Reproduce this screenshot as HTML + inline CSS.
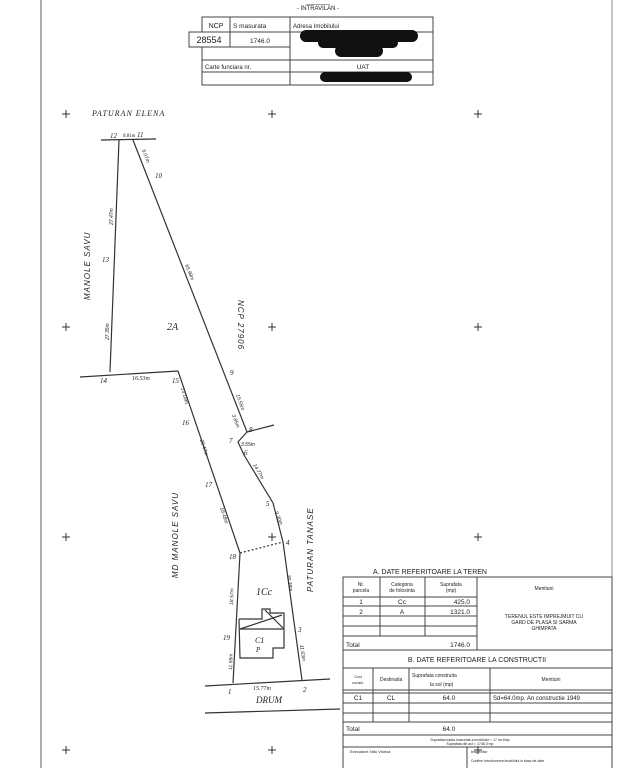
<!DOCTYPE html>
<html><head><meta charset="utf-8"><style>
html,body{margin:0;padding:0;background:#fff;}
svg{display:block}
text{font-family:"Liberation Sans",sans-serif;fill:#222}
.s{font-family:"Liberation Serif",serif;font-style:italic}
</style></head><body>
<svg width="640" height="768" viewBox="0 0 640 768" xmlns="http://www.w3.org/2000/svg">
<rect width="640" height="768" fill="#fff"/>
<line x1="41" y1="0" x2="41" y2="768" stroke="#777" stroke-width="1.2"/>
<line x1="612" y1="0" x2="612" y2="768" stroke="#888" stroke-width="1"/>
<text x="318" y="3" font-size="6" text-anchor="middle">_______</text>
<text x="318" y="10" font-size="6" text-anchor="middle">- INTRAVILAN -</text>
<g stroke="#444" stroke-width="1" fill="none">
<rect x="202" y="17" width="231" height="68"/>
<line x1="202" y1="32" x2="433" y2="32"/>
<line x1="202" y1="47" x2="290" y2="47"/>
<line x1="202" y1="60" x2="433" y2="60"/>
<line x1="202" y1="72" x2="433" y2="72"/>
<line x1="230" y1="17" x2="230" y2="47"/>
<line x1="290" y1="17" x2="290" y2="85"/>
<rect x="189" y="32" width="41" height="15" fill="#fff"/>
</g>
<text x="216" y="28" font-size="7" text-anchor="middle">NCP</text>
<text x="233" y="28" font-size="6.5">S masurata</text>
<text x="293" y="28" font-size="6">Adresa Imobilului</text>
<text x="209" y="43" font-size="9" text-anchor="middle" fill="#555">28554</text>
<text x="260" y="43" font-size="6.5" text-anchor="middle">1746.0</text>
<text x="205" y="69" font-size="6">Carte funciara nr.</text>
<text x="363" y="69" font-size="6.5" text-anchor="middle">UAT</text>
<g fill="#111">
<rect x="300" y="30" width="118" height="12" rx="6"/>
<rect x="318" y="38" width="80" height="10" rx="5"/>
<rect x="335" y="45" width="48" height="12" rx="6"/>
<rect x="320" y="72" width="92" height="10" rx="5"/>
</g>
<g stroke="#333" stroke-width="1">
<path d="M62 114h8M66 110v8M268 114h8M272 110v8M474 114h8M478 110v8"/>
<path d="M62 327h8M66 323v8M268 327h8M272 323v8M474 327h8M478 323v8"/>
<path d="M62 537h8M66 533v8M268 537h8M272 533v8M474 537h8M478 533v8"/>
<path d="M62 750h8M66 746v8M268 750h8M272 746v8M474 750h8M478 746v8"/>
</g>
<g stroke="#333" stroke-width="1.2" fill="none">
<line x1="101" y1="140" x2="156" y2="139"/>
<polyline points="119,140 110,372"/>
<polyline points="133,140 247,432"/>
<line x1="247" y1="432" x2="274" y2="425"/>
<polyline points="247,432 238,442 244,455 273,503 283,542 302,680"/>
<line x1="80" y1="377" x2="178" y2="371"/>
<polyline points="178,371 240,553 233,683"/>
<line x1="205" y1="686" x2="330" y2="679"/>
<line x1="205" y1="713" x2="340" y2="709"/>
<line x1="240" y1="553" x2="283" y2="542" stroke-dasharray="2,2"/>
<polyline points="239,619 262,619 262,609 270,609 270,613 284,613 284,648 273,648 273,658 240,658 239,619"/>
<line x1="240" y1="629" x2="284" y2="629"/>
<line x1="240" y1="629" x2="282" y2="615"/>
<line x1="265" y1="610" x2="283" y2="628"/>
</g>
<g class="s" font-size="7">
<text x="92" y="116" class="s" font-size="8" letter-spacing="1">PATURAN ELENA</text>
<text x="110" y="138" class="s">12</text><text x="137" y="137" class="s">11</text>
<text x="123" y="137" class="s" font-size="5">8.81m</text>
<text x="155" y="178" class="s">10</text>
<text x="102" y="262" class="s">13</text>
<text x="100" y="383" class="s">14</text>
<text x="132" y="380" class="s" font-size="6">16.53m</text>
<text x="172" y="383" class="s">15</text>
<text x="182" y="425" class="s">16</text>
<text x="205" y="487" class="s">17</text>
<text x="229" y="559" class="s">18</text>
<text x="223" y="640" class="s">19</text>
<text x="228" y="694" class="s">1</text>
<text x="303" y="692" class="s">2</text>
<text x="298" y="632" class="s">3</text>
<text x="286" y="545" class="s">4</text>
<text x="266" y="506" class="s">5</text>
<text x="244" y="455" class="s">6</text>
<text x="229" y="443" class="s">7</text>
<text x="249" y="432" class="s">8</text>
<text x="230" y="375" class="s">9</text>
<text x="253" y="690" class="s" font-size="6">15.77m</text>
<text x="256" y="703" class="s" font-size="9">DRUM</text>
<text x="167" y="330" class="s" font-size="10">2A</text>
<text x="256" y="595" class="s" font-size="10">1Cc</text>
<text x="255" y="643" class="s" font-size="8">C1</text>
<text x="256" y="652" class="s" font-size="7">P</text>
</g>
<g class="s" font-size="8" letter-spacing="1">
<text transform="translate(90,300) rotate(-90)">MANOLE SAVU</text>
<text transform="translate(178,578) rotate(-90)">MD MANOLE SAVU</text>
<text transform="translate(238,300) rotate(90)">NCP 27906</text>
<text transform="translate(313,592) rotate(-90)">PATURAN TANASE</text>
</g>
<g class="s" font-size="5">
<text transform="translate(113,225) rotate(-90)">27.47m</text>
<text transform="translate(109,340) rotate(-90)">27.35m</text>
<text transform="translate(142,150) rotate(70)">6.07m</text>
<text transform="translate(185,265) rotate(68)">65.98m</text>
<text transform="translate(236,395) rotate(70)">15.55m</text>
<text transform="translate(232,415) rotate(70)">3.85m</text>
<text transform="translate(241,446)">3.55m</text>
<text transform="translate(253,465) rotate(60)">14.77m</text>
<text transform="translate(275,512) rotate(70)">9.30m</text>
<text transform="translate(181,388) rotate(75)">13.18m</text>
<text transform="translate(200,440) rotate(72)">22.47m</text>
<text transform="translate(220,508) rotate(72)">18.48m</text>
<text transform="translate(233,605) rotate(-88)">18.57m</text>
<text transform="translate(232,670) rotate(-88)">11.66m</text>
<text transform="translate(287,575) rotate(82)">20.39m</text>
<text transform="translate(300,645) rotate(82)">11.63m</text>
</g>
<text x="430" y="574" font-size="7" text-anchor="middle">A. DATE REFERITOARE LA TEREN</text>
<g stroke="#444" stroke-width="1" fill="none">
<rect x="343" y="577" width="269" height="170"/>
<line x1="343" y1="597" x2="477" y2="597"/>
<line x1="343" y1="606" x2="477" y2="606"/>
<line x1="343" y1="616" x2="477" y2="616"/>
<line x1="343" y1="626" x2="477" y2="626"/>
<line x1="343" y1="636" x2="477" y2="636"/>
<line x1="343" y1="650" x2="612" y2="650"/>
<line x1="380" y1="577" x2="380" y2="636"/>
<line x1="425" y1="577" x2="425" y2="636"/>
<line x1="477" y1="577" x2="477" y2="650"/>
<line x1="343" y1="668" x2="612" y2="668"/>
<line x1="343" y1="690" x2="612" y2="690"/>
<line x1="343" y1="693" x2="612" y2="693"/>
<line x1="343" y1="703" x2="612" y2="703"/>
<line x1="343" y1="713" x2="612" y2="713"/>
<line x1="343" y1="722" x2="612" y2="722"/>
<line x1="343" y1="735" x2="612" y2="735"/>
<line x1="373" y1="668" x2="373" y2="722"/>
<line x1="409" y1="668" x2="409" y2="722"/>
<line x1="490" y1="668" x2="490" y2="722"/>
<line x1="343" y1="747" x2="612" y2="747"/>
<line x1="467" y1="747" x2="467" y2="768"/>
<line x1="343" y1="747" x2="343" y2="768"/>
<line x1="612" y1="747" x2="612" y2="768"/>
</g>
<g font-size="5" fill="#333">
<text x="361" y="586" text-anchor="middle">Nr.</text><text x="361" y="592" text-anchor="middle">parcela</text>
<text x="402" y="586" text-anchor="middle">Categoria</text><text x="402" y="592" text-anchor="middle">de folosinta</text>
<text x="451" y="586" text-anchor="middle">Suprafata</text><text x="451" y="592" text-anchor="middle">(mp)</text>
<text x="544" y="590" text-anchor="middle">Mentiuni</text>
<text x="544" y="618" text-anchor="middle">TERENUL ESTE IMPREJMUIT CU</text>
<text x="544" y="624" text-anchor="middle">GARD DE PLASA SI SARMA</text>
<text x="544" y="630" text-anchor="middle">GHIMPATA</text>
<text x="358" y="678" text-anchor="middle" font-size="4">Cod</text>
<text x="358" y="684" text-anchor="middle" font-size="4">constr.</text>
<text x="380" y="681">Destinatia</text>
<text x="412" y="677">Suprafata construita</text>
<text x="430" y="686">la sol  (mp)</text>
<text x="551" y="681" text-anchor="middle">Mentiuni</text>
<text x="470" y="741" text-anchor="middle" font-size="3.5">Suprafata totala masurata a imobilului = 17 ha 6mp</text>
<text x="470" y="745" text-anchor="middle" font-size="3.5">Suprafata din act = 1746.0 mp</text>
<text x="350" y="753" font-size="4">Executant: Nitu Viorica</text>
<text x="471" y="753" font-size="4">Inspector</text>
<text x="471" y="762" font-size="3.5">Confirm introducerea imobilului in baza de date</text>
</g>
<g font-size="6.5" fill="#222">
<text x="361" y="604" text-anchor="middle">1</text><text x="402" y="604" text-anchor="middle">Cc</text><text x="470" y="604" text-anchor="end">425.0</text>
<text x="361" y="614" text-anchor="middle">2</text><text x="402" y="614" text-anchor="middle">A</text><text x="470" y="614" text-anchor="end">1321.0</text>
<text x="346" y="647">Total</text><text x="470" y="647" text-anchor="end">1746.0</text>
<text x="477" y="662" text-anchor="middle" font-size="7">B. DATE REFERITOARE LA CONSTRUCTII</text>
<text x="358" y="700" text-anchor="middle">C1</text><text x="391" y="700" text-anchor="middle">CL</text>
<text x="449" y="700" text-anchor="middle">64.0</text>
<text x="493" y="700" font-size="6">Sd=64.0mp. An constructie 1949</text>
<text x="346" y="731">Total</text><text x="449" y="731" text-anchor="middle">64.0</text>
</g>
</svg>
</body></html>
